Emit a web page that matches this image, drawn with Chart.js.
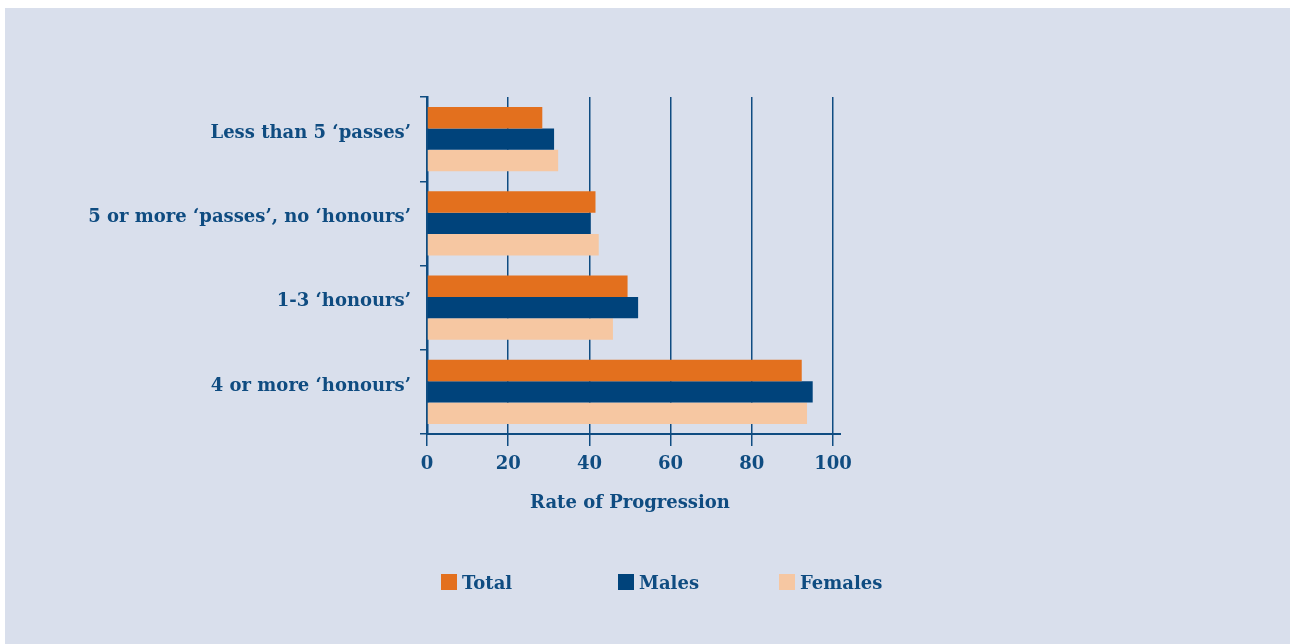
<!DOCTYPE html>
<html>
<head>
<meta charset="utf-8">
<script src="https://cdn.jsdelivr.net/npm/chart.js@4"></script>
<style>
  html, body { margin: 0; padding: 0; background: #ffffff; }
  body { width: 1293px; height: 644px; position: relative; overflow: hidden; }
  #panel { position: absolute; left: 5px; top: 8px; width: 1285px; height: 636px; background: #d9dfec; }
  #wrap { position: absolute; left: 0; top: 0; width: 1293px; height: 644px; }
  #legend { position: absolute; top: 571px; left: 0; width: 1293px; height: 22px;
            font-family: "DejaVu Serif", serif; font-weight: bold; font-size: 18px; color: #0f4c81; }
  .item { position: absolute; top: 0; display: flex; align-items: center; height: 22px; }
  .box { width: 16px; height: 16px; margin-right: 5px; }
</style>
</head>
<body>
<div id="panel"></div>
<div id="wrap"><canvas id="c" width="1293" height="644"></canvas></div>
<div id="legend"></div>
<script>
const categories = ["Less than 5 \u2018passes\u2019", "5 or more \u2018passes\u2019, no \u2018honours\u2019", "1-3 \u2018honours\u2019", "4 or more \u2018honours\u2019"];
const totalValues = [28.4, 41.5, 49.4, 92.3];
const maleValues = [31.3, 40.3, 52.0, 95.0];
const femaleValues = [32.3, 42.3, 45.8, 93.6];
const xTicks = [0, 20, 40, 60, 80, 100];
const seriesNames = ["Total", "Males", "Females"];

const NAVY = "#0f4c81";
const colors = ["#e3701e", "#00437b", "#f6c7a2"];
const legendX = [441, 618, 779];

const font = { family: "DejaVu Serif", weight: "bold", size: 18 };

const extendAxis = {
  id: 'extendAxis',
  afterDraw(chart) {
    const ctx = chart.ctx, a = chart.chartArea;
    ctx.save();
    ctx.strokeStyle = NAVY;
    ctx.lineWidth = 2;
    ctx.beginPath();
    ctx.moveTo(a.right, a.bottom);
    ctx.lineTo(a.right + 8, a.bottom);
    ctx.stroke();
    ctx.restore();
  }
};

const chart = new Chart(document.getElementById('c'), {
  type: 'bar',
  data: {
    labels: categories,
    datasets: [
      { label: seriesNames[0], data: totalValues, backgroundColor: colors[0] },
      { label: seriesNames[1], data: maleValues, backgroundColor: colors[1] },
      { label: seriesNames[2], data: femaleValues, backgroundColor: colors[2] }
    ]
  },
  options: {
    indexAxis: 'y',
    responsive: false,
    animation: false,
    datasets: { bar: { categoryPercentage: 0.76, barPercentage: 1.0, borderWidth: 0 } },
    layout: { padding: { left: 0, top: 97, right: 460, bottom: 130 } },
    plugins: { legend: { display: false }, tooltip: { enabled: false } },
    scales: {
      x: {
        min: 0, max: 100,
        afterBuildTicks(scale) { scale.ticks = xTicks.map(v => ({ value: v })); },
        afterFit(scale) { scale.height = 80; },
        grid: { color: NAVY, lineWidth: 1.5, tickLength: 12, drawTicks: true },
        border: { display: true, color: NAVY, width: 2 },
        ticks: { color: NAVY, font: font, padding: 8, maxRotation: 0 },
        title: { display: true, text: "Rate of Progression", color: NAVY, font: font, padding: { top: 0, bottom: 0 } }
      },
      y: {
        afterFit(scale) { scale.width = 427; },
        offset: true,
        grid: { offset: true, drawOnChartArea: false, drawTicks: true, tickLength: 7, color: NAVY, lineWidth: 1.5 },
        border: { display: true, color: NAVY, width: 2.5 },
        ticks: { color: NAVY, font: font, padding: 9, labelOffset: -6 }
      }
    }
  },
  plugins: [extendAxis]
});

const legend = document.getElementById('legend');
chart.data.datasets.forEach((ds, i) => {
  const item = document.createElement('div');
  item.className = 'item';
  item.style.left = legendX[i] + 'px';
  const box = document.createElement('span');
  box.className = 'box';
  box.style.background = ds.backgroundColor;
  const txt = document.createElement('span');
  txt.textContent = ds.label;
  item.appendChild(box); item.appendChild(txt);
  legend.appendChild(item);
});
</script>
</body>
</html>
